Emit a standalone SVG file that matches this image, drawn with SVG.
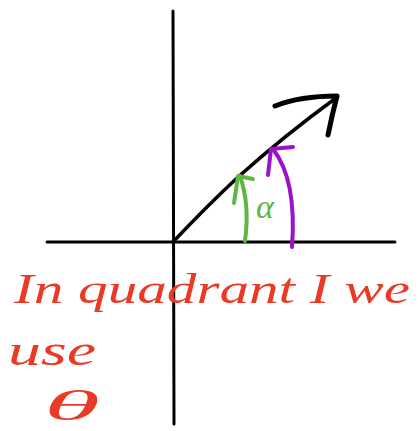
<svg xmlns="http://www.w3.org/2000/svg" width="418" height="431" viewBox="0 0 418 431">
<style>
.axis{stroke:#000;stroke-width:3;fill:none;stroke-linecap:round}
.vec{stroke:#000;stroke-width:3.5;fill:none;stroke-linecap:round;stroke-linejoin:round}
.head{stroke:#000;stroke-width:5;fill:none;stroke-linecap:round;stroke-linejoin:round}
.green{stroke:#5DB840;stroke-width:4;fill:none;stroke-linecap:round;stroke-linejoin:round}
.purple{stroke:#9A12C9;stroke-width:4;fill:none;stroke-linecap:round;stroke-linejoin:round}
.hand{fill:#EA3A26;font-family:"Liberation Serif",serif;font-style:italic}
</style>
<rect width="418" height="431" fill="#fff"/>
<path class="axis" d="M173 11 L174 424"/>
<path class="axis" d="M47 242 L395 242"/>
<path class="vec" d="M173 242 Q205 208 237 178 Q285 135 336 98"/>
<path class="head" d="M275 106 Q300 96 337 96 Q332 115 328 135"/>
<path class="green" d="M245 241 Q250 205 240 176"/>
<path class="green" d="M234 203 L238 176 L253 179"/>
<text x="256" y="218" fill="#5DB840" font-family="Liberation Serif,serif" font-style="italic" font-size="34">α</text>
<path class="purple" d="M292 247 Q297 180 273 149"/>
<path class="purple" d="M268 175 L271 149 L293 147"/>
<text class="hand" x="14" y="303" font-size="42" textLength="396" lengthAdjust="spacingAndGlyphs">In quadrant I we</text>
<text class="hand" x="8" y="365" font-size="44" textLength="88" lengthAdjust="spacingAndGlyphs">use</text>
<text class="hand" x="44" y="420" font-size="42" textLength="56" lengthAdjust="spacingAndGlyphs">θ</text>
</svg>
